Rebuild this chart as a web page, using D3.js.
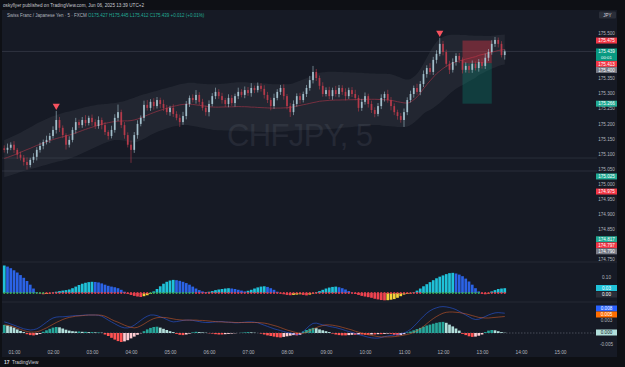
<!DOCTYPE html>
<html>
<head>
<meta charset="utf-8">
<script src="https://cdn.jsdelivr.net/npm/d3@7"></script>
<style>
html, body { margin: 0; padding: 0; background: #0e1015; }
svg { display: block; font-family: "Liberation Sans", Arial, sans-serif; }
</style>
</head>
<body>
<div id="chart"></div>
<script>
// ---- data (prices in thousandths above 175.000, one entry per 5 min bar from 00:45) ----
const firstOpen = 118;
const closes = [113,120,130,113,97,87,73,63,80,90,
  113,126,139,146,159,179,212,186,162,130,
  146,179,205,195,212,202,219,205,192,212,
  195,172,159,179,219,238,195,162,130,113,
  162,199,219,262,252,272,258,278,265,252,
  238,252,232,219,205,225,265,285,278,295,
  272,252,238,265,291,305,291,278,265,285,
  268,291,305,295,311,301,318,311,325,315,
  295,278,258,285,305,318,291,258,238,265,
  291,278,298,318,344,371,351,325,298,311,
  291,311,298,318,305,291,311,298,285,252,
  272,291,265,245,232,258,285,298,278,258,
  238,225,212,238,278,298,318,305,331,364,
  384,371,411,431,464,437,398,378,404,424,
  411,378,391,378,398,384,404,391,418,437,
  464,477,464,427,439];
const wickUp = [10,14,8,12,6,10,9,15,7,12,
  9,11,8,14,10,12,30,10,8,6,
  12,9,14,8,10,16,7,11,9,12,
  8,10,6,14,12,25,8,10,9,14,
  10,12,8,14,16,9,12,10,8,14,
  10,7,12,9,11,14,10,8,12,16,
  9,10,8,12,10,14,9,11,7,12,
  10,8,14,9,12,10,16,8,11,9,
  12,10,8,14,9,10,12,7,10,12,
  9,11,8,10,14,20,10,8,12,9,
  11,8,14,10,9,12,8,10,14,9,
  10,12,8,11,9,10,12,8,14,10,
  9,8,10,12,9,11,8,14,10,12,
  9,16,10,12,20,10,8,10,12,9,
  10,8,12,9,11,8,10,12,14,10,
  12,10,8,9,6];
const wickDn = [9,12,8,10,14,9,12,15,8,10,
  12,9,11,8,10,9,12,14,10,16,
  9,8,12,10,9,11,8,12,10,9,
  14,10,12,8,9,11,10,12,9,43,
  10,12,8,11,9,10,12,8,14,10,
  9,12,10,8,16,9,11,10,8,12,
  10,9,12,14,8,10,9,12,10,11,
  9,12,10,8,11,9,12,10,8,9,
  12,10,14,9,8,10,12,11,16,10,
  9,12,8,10,9,11,10,12,9,8,
  10,12,9,11,10,14,9,10,8,12,
  10,9,12,10,11,8,10,12,9,14,
  10,12,9,23,10,8,12,9,11,10,
  12,9,10,12,8,11,10,14,9,12,
  10,12,9,11,10,8,12,9,10,11,
  9,10,12,8,15];

// band envelope (thousandths above 175.000)
const bandUpper = [146,150,155,160,165,170,176,182,188,194,
  200,205,210,215,220,224,228,232,235,238,
  240,243,246,249,252,255,257,259,261,263,
  264,265,266,267,268,270,272,275,278,282,
  286,290,294,297,300,303,306,309,312,315,
  318,321,324,327,330,332,334,335,335,334,
  333,332,331,330,330,330,331,332,333,334,
  335,336,337,337,337,336,335,335,334,333,
  333,332,331,330,330,330,330,330,331,334,
  338,342,346,350,355,360,364,368,370,371,
  372,372,372,371,371,370,370,369,369,368,
  368,367,367,366,366,365,365,365,364,363,
  360,356,352,348,346,348,355,365,380,398,
  418,438,455,470,480,487,491,493,494,494,
  494,493,493,492,492,491,491,491,490,490,
  491,492,493,494,495];
const bandLower = [23,26,29,32,36,40,43,46,48,52,
  55,58,61,64,67,70,73,75,78,80,
  84,88,92,97,102,107,112,117,122,127,
  132,136,140,143,146,146,145,143,140,138,
  138,140,145,150,156,162,167,172,176,180,
  184,187,190,192,194,195,195,194,192,190,
  188,186,184,182,180,179,178,178,177,177,
  176,176,176,175,175,175,174,174,173,173,
  172,172,172,172,173,173,174,175,176,177,
  178,178,179,179,179,179,179,180,180,181,
  182,183,184,185,186,187,188,189,190,191,
  192,193,194,195,195,195,194,193,192,191,
  190,189,189,189,190,195,203,212,222,233,
  240,245,252,260,268,278,288,298,307,315,
  322,328,334,340,346,352,361,366,372,377,
  382,386,391,394,396];

// momentum oscillator (thousandths)
const momentum = [172,165,155,142,128,112,95,75,52,28,
  5,-4,-8,-6,-3,
  3,8,12,15,18,22,
  30,40,50,58,64,68,70,69,66,60,
  52,45,40,36,30,20,8,
  -5,-12,-18,-22,-25,-20,-14,-6,
  10,25,42,58,70,78,82,80,76,70,62,
  52,40,28,18,10,6,
  8,12,18,22,25,28,30,28,25,20,15,
  10,14,20,28,
  35,40,42,38,30,20,
  8,-3,-8,-12,-14,-12,-10,-8,
  -12,-15,-10,-4,
  5,12,20,28,34,38,40,36,30,22,12,
  2,-6,-12,-18,-22,-26,
  -30,-36,-40,-44,-46,-45,-42,-38,-30,-20,
  -10,-6,
  -3,4,
  15,28,42,55,68,80,92,102,110,118,124,
  126,122,115,105,
  90,72,52,30,10,
  -5,-8,-3,
  10,18,25,28,30];
// squeeze dots as runs: [bars, on]
const squeezeRuns = [[13,1],[32,0],[14,1],[70,0],[18,1],[8,0]];

// MACD (units of 0.0001)
const macdLine = [37,34,30,26,22,18,14,12,10,11,
  14,20,28,36,44,50,53,54,54,55,
  56,57,58,58,59,60,60,60,60,59,
  56,50,43,37,31,25,20,17,17,20,
  26,34,42,50,56,60,60,58,54,50,
  45,40,37,38,40,42,43,43,42,40,
  38,36,35,35,36,37,38,38,37,36,
  35,34,34,35,36,37,37,36,34,30,
  26,22,18,14,11,8,5,2,0,-3,
  -6,-4,5,15,25,32,33,30,27,25,
  22,20,18,15,12,8,5,2,-2,-5,
  -8,-11,-14,-16,-17,-17,-15,-12,-10,-8,
  -7,-5,-3,0,5,12,22,33,45,56,
  66,74,80,84,87,88,87,85,82,78,
  72,66,60,54,48,45,46,50,55,60,
  64,67,68,67,66];
const signalLine = [27,26,24,20,16,12,8,5,3,3,
  4,7,12,17,23,29,35,40,45,49,
  52,54,56,57,58,59,60,60,60,60,
  59,56,51,45,40,36,31,26,22,19,
  17,19,24,30,37,43,48,51,52,52,
  51,49,47,45,44,43,43,43,43,43,
  42,42,41,40,39,38,37,37,36,36,
  36,35,35,35,35,35,35,35,35,34,
  33,31,28,25,22,18,14,10,7,4,
  1,-1,-1,2,7,13,18,22,25,27,
  27,26,24,22,19,16,13,10,6,3,
  0,-3,-6,-8,-10,-12,-13,-13,-13,-13,
  -12,-11,-9,-7,-5,-2,2,7,14,22,
  31,40,48,55,61,66,69,70,70,69,
  68,66,64,61,58,55,52,51,50,50,
  51,52,53,54,55];
const macdHist = [27,25,22,18,
  12,7,3,
  -4,-7,-8,-6,-3,
  4,9,14,18,20,19,
  15,11,8,
  6,5,5,4,4,3,3,2,2,1,
  -5,-10,-16,-22,-27,-30,-28,-24,-18,-12,
  -6,-1,
  6,12,17,20,21,
  18,14,10,6,3,
  -3,-6,-7,-5,
  -2,2,4,3,2,1,-1,-2,
  -4,-5,-5,-4,-3,-2,-1,0,
  1,2,3,2,1,0,-2,
  -5,-8,-10,-12,-14,-15,-13,-11,-9,-7,
  -8,-6,
  5,10,14,17,16,
  12,9,6,3,
  -2,-5,-7,-8,-8,-7,-6,
  -6,-5,-5,-6,-6,-5,-5,-4,-4,
  -3,-2,-3,
  -6,-8,-7,-4,
  2,5,9,13,17,21,25,28,31,34,36,37,
  34,28,22,15,8,
  -3,-7,-11,-13,-12,-9,-5,
  3,8,10,9,
  6,3,1];

const hourLabels = ["01:00","02:00","03:00","04:00","05:00","06:00","07:00","08:00",
  "09:00","10:00","11:00","12:00","13:00","14:00","15:00"];
// ticks hidden behind the coloured tags are left out
const priceTicks = [175.5,175.35,175.3,175.25,175.2,175.15,175.1,
  175.05,175.0,174.95,174.9,174.85,174.75];
const priceTags = [175.475,175.439,175.413,175.400,175.266,175.025,174.975,174.817,174.797,174.790];
const priceTagKinds = ["sell","last","sell","avg","buy","buy","sell","buy","sell","avg"];
const sellSignals = [16, 134];
const position = { entry: 175.400, stop: 175.475, target: 175.266, from: 138, to: 147 };
const levelLines = [175.086, 175.043];

// ---- layout ----
const W = 625, H = 367;
const tagColor = { sell: "#f23645", buy: "#22ab94", last: "#089981", avg: "#787b86" };

const x = d3.scaleLinear().domain([0, 168]).range([14, 560]);   // 5-min bars from 01:00
const barX = i => x(i - 3);
const y = d3.scaleLinear().domain([174.75, 175.5]).range([259.5, 33]);
const yP = v => y(175 + v / 1000);
const yM = d3.scaleLinear().domain([0, 100]).range([293, 277]);   // momentum pane
const yD = d3.scaleLinear().domain([0, 80]).range([333, 309]);    // macd pane

const svg = d3.select("#chart").append("svg").attr("width", W).attr("height", H);

svg.append("rect").attr("width", W).attr("height", H).attr("fill", "#0e1015");
svg.append("rect").attr("x", 2).attr("y", 10).attr("width", 615).attr("height", 347).attr("fill", "#161a25");

const defs = svg.append("defs");
defs.append("clipPath").attr("id", "clipMain").append("rect")
  .attr("x", 2).attr("y", 22).attr("width", 595).attr("height", 240);
defs.append("clipPath").attr("id", "clipLow").append("rect")
  .attr("x", 2).attr("y", 262).attr("width", 595).attr("height", 83);

// header texts
svg.append("text").attr("x", 3).attr("y", 7).attr("font-size", 4.6).attr("fill", "#c9cbd2")
  .attr("textLength", 141).text("oskyflyer published on TradingView.com, Jun 06, 2025 13:39 UTC+2");

const legend = svg.append("text").attr("x", 7).attr("y", 17).attr("font-size", 4.5);
legend.append("tspan").attr("fill", "#b2b5be").text("Swiss Franc / Japanese Yen · 5 · FXCM  ");
legend.append("tspan").attr("fill", "#22ab94")
  .text("O175.427  H175.445  L175.412  C175.439  +0.012 (+0.01%)");

svg.append("rect").attr("x", 599).attr("y", 11.5).attr("width", 17).attr("height", 7)
  .attr("rx", 1).attr("fill", "#2a2e39");
svg.append("text").attr("x", 607.5).attr("y", 16.8).attr("text-anchor", "middle")
  .attr("font-size", 4.5).attr("fill", "#d1d4dc").text("JPY");

// watermark
svg.append("text").attr("x", 227).attr("y", 146).attr("font-size", 31)
  .attr("textLength", 146).attr("fill", "#252935").text("CHFJPY, 5");

// pane separators
[262, 302].forEach(py => {
  svg.append("line").attr("x1", 2).attr("x2", 617).attr("y1", py).attr("y2", py)
    .attr("stroke", "#242834").attr("stroke-width", 1);
});

// ---- main pane ----
const main = svg.append("g").attr("clip-path", "url(#clipMain)");

levelLines.forEach(p => {
  main.append("line").attr("x1", 2).attr("x2", 597).attr("y1", y(p)).attr("y2", y(p))
    .attr("stroke", "#2f3340").attr("stroke-width", 0.8);
});
main.append("line").attr("x1", 2).attr("x2", 597).attr("y1", y(175.439)).attr("y2", y(175.439))
  .attr("stroke", "#3a3e4a").attr("stroke-width", 0.7);

const idx = d3.range(closes.length);

main.append("path").datum(idx)
  .attr("d", d3.area().curve(d3.curveMonotoneX)
    .x(i => barX(i)).y0(i => yP(bandLower[i])).y1(i => yP(bandUpper[i])))
  .attr("fill", "rgba(125,128,140,0.12)");

main.append("path").datum(idx)
  .attr("d", d3.line().curve(d3.curveMonotoneX)
    .x(i => barX(i)).y(i => yP((bandLower[i] + bandUpper[i]) / 2)))
  .attr("fill", "none").attr("stroke", "#8a3142").attr("stroke-width", 0.8);

// position tool
const px0 = x(position.from), px1 = x(position.to);
main.append("rect").attr("x", px0).attr("width", px1 - px0)
  .attr("y", y(position.stop)).attr("height", y(position.entry) - y(position.stop))
  .attr("fill", "rgba(242,54,69,0.36)");
main.append("rect").attr("x", px0).attr("width", px1 - px0)
  .attr("y", y(position.entry)).attr("height", y(position.target) - y(position.entry))
  .attr("fill", "rgba(8,153,129,0.28)");

// candles
const candles = idx.map(i => {
  const o = i ? closes[i - 1] : firstOpen, c = closes[i];
  return { i, o, c, h: Math.max(o, c) + (wickUp[i] || 8), l: Math.min(o, c) - (wickDn[i] || 8) };
});
const up = "#a3bfcb", dn = "#b53a4a";
const cg = main.append("g");
cg.selectAll("line").data(candles).join("line")
  .attr("x1", d => barX(d.i)).attr("x2", d => barX(d.i))
  .attr("y1", d => yP(d.h)).attr("y2", d => yP(d.l))
  .attr("stroke", d => d.c >= d.o ? up : dn).attr("stroke-width", 0.6);
cg.selectAll("rect").data(candles).join("rect")
  .attr("x", d => barX(d.i) - 0.85).attr("width", 1.7)
  .attr("y", d => yP(Math.max(d.o, d.c)))
  .attr("height", d => Math.max(0.8, Math.abs(yP(d.o) - yP(d.c))))
  .attr("fill", d => d.c >= d.o ? up : dn);

// sell markers
main.selectAll("path.sig").data(sellSignals).join("path").attr("class", "sig")
  .attr("d", d3.symbol(d3.symbolTriangle, 22))
  .attr("transform", i => `translate(${barX(i)},${yP(candles[i].h) - 5}) rotate(180)`)
  .attr("fill", "#f7525f");

// ---- momentum pane ----
const low = svg.append("g").attr("clip-path", "url(#clipLow)");
const momColor = (v, p) => v >= 0 ? (v >= p ? "#1fc2d9" : "#2b63e6") : (v <= p ? "#f0434f" : "#f5d33a");
low.selectAll("rect.mom").data(momentum).join("rect").attr("class", "mom")
  .attr("x", (v, i) => barX(i) - 1.35).attr("width", 2.7)
  .attr("y", v => Math.min(yM(v), yM(0)))
  .attr("height", v => Math.abs(yM(v) - yM(0)))
  .attr("fill", (v, i) => momColor(v, i ? momentum[i - 1] : v));

const sqz = [];
squeezeRuns.forEach(([n, on]) => { for (let k = 0; k < n; k++) sqz.push(on); });
low.selectAll("rect.sqz").data(sqz).join("rect").attr("class", "sqz")
  .attr("x", (s, i) => barX(i) - 0.9).attr("width", 1.8)
  .attr("y", yM(0) - 0.9).attr("height", 1.8)
  .attr("fill", s => s ? "#3fae5a" : "#e0404c");

// ---- macd pane ----
low.append("line").attr("x1", 2).attr("x2", 597).attr("y1", yD(0)).attr("y2", yD(0))
  .attr("stroke", "#6a6d78").attr("stroke-width", 0.6).attr("stroke-dasharray", "1.5,1.5");
const histColor = (v, p) => v >= 0 ? (v >= p ? "#26a69a" : "#b2dfdb") : (v <= p ? "#ff5252" : "#ffcdd2");
low.selectAll("rect.hist").data(macdHist).join("rect").attr("class", "hist")
  .attr("x", (v, i) => barX(i) - 1.35).attr("width", 2.7)
  .attr("y", v => Math.min(yD(v), yD(0)))
  .attr("height", v => Math.abs(yD(v) - yD(0)))
  .attr("fill", (v, i) => histColor(v, i ? macdHist[i - 1] : v));
low.append("path").datum(idx)
  .attr("d", d3.line().x(i => barX(i)).y(i => yD(macdLine[i])))
  .attr("fill", "none").attr("stroke", "#2962ff").attr("stroke-width", 0.6).attr("opacity", 0.85);
low.append("path").datum(idx)
  .attr("d", d3.line().x(i => barX(i)).y(i => yD(signalLine[i])))
  .attr("fill", "none").attr("stroke", "#e8622a").attr("stroke-width", 0.6).attr("opacity", 0.85);

// ---- axes ----
const timeAxis = svg.append("g").attr("transform", "translate(0,348)")
  .call(d3.axisBottom(x).tickValues(hourLabels.map((h, k) => k * 12))
    .tickFormat((d, k) => hourLabels[k]).tickSize(0));
timeAxis.select(".domain").remove();
timeAxis.selectAll("text").attr("font-size", 4.8).attr("fill", "#b2b5be")
  .attr("font-family", "Liberation Sans, Arial, sans-serif");

const priceAxis = svg.append("g").attr("transform", "translate(606.5,0)")
  .call(d3.axisRight(y).tickValues(priceTicks).tickFormat(d3.format(".3f")).tickSize(0).tickPadding(0));
priceAxis.select(".domain").remove();
priceAxis.selectAll("text").attr("font-size", 4.6).attr("fill", "#b2b5be")
  .attr("text-anchor", "middle").attr("font-family", "Liberation Sans, Arial, sans-serif");

// price tags with simple overlap push-down
let prevBottom = -Infinity;
priceTags.forEach((p, k) => {
  const kind = priceTagKinds[k];
  const h = kind === "last" ? 12.5 : 6;
  let top = y(p) - 3;
  if (top < prevBottom) top = prevBottom;
  prevBottom = top + h;
  svg.append("rect").attr("x", 596).attr("y", top).attr("width", 21).attr("height", h)
    .attr("fill", tagColor[kind]);
  svg.append("text").attr("x", 606.5).attr("y", top + 4.6).attr("text-anchor", "middle")
    .attr("font-size", 4.6).attr("fill", "#ffffff").text(p.toFixed(3));
  if (kind === "last") {
    svg.append("text").attr("x", 606.5).attr("y", top + 10.6).attr("text-anchor", "middle")
      .attr("font-size", 4.3).attr("fill", "#ffffff").text("00:01");
  }
});

// oscillator scale labels
function tag(val, yy, bg, fg) {
  if (bg) svg.append("rect").attr("x", 596).attr("y", yy - 3).attr("width", 21).attr("height", 6).attr("fill", bg);
  svg.append("text").attr("x", 606.5).attr("y", yy + 1.6).attr("text-anchor", "middle")
    .attr("font-size", 4.6).attr("fill", fg).text(val);
}
tag("0.10", yM(100), null, "#b2b5be");
tag((momentum[momentum.length - 1] / 1000).toFixed(2), 288, "#1fc2d9", "#ffffff");
tag("0.00", 294.5, "#2a2e39", "#ffffff");
tag("-0.005", 344.5, null, "#b2b5be");
tag("0.003", 320.5, null, "#b2b5be");
tag((macdLine[macdLine.length - 1] / 10000 + 0.0014).toFixed(3), 308.5, "#2962ff", "#ffffff");
tag((signalLine[signalLine.length - 1] / 10000).toFixed(3), 314.5, "#ff6d00", "#ffffff");
tag("0.000", 332.5, "#b2dfdb", "#131722");

// footer logo
svg.append("text").attr("x", 4).attr("y", 364).attr("font-size", 5).attr("font-weight", "bold")
  .attr("fill", "#d1d4dc").text("17");
svg.append("text").attr("x", 12).attr("y", 364).attr("font-size", 4.8)
  .attr("fill", "#d1d4dc").text("TradingView");
</script>
</body>
</html>
